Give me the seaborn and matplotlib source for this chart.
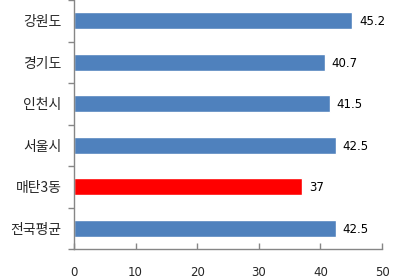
import matplotlib
matplotlib.use("Agg")
import matplotlib.pyplot as plt
import seaborn as sns
import pandas as pd

categories = ["강원도", "경기도", "인천시", "서울시", "매탄3동", "전국평균"]
values = [45.2, 40.7, 41.5, 42.5, 37, 42.5]
value_labels = ["45.2", "40.7", "41.5", "42.5", "37", "42.5"]
bar_colors = ["#4F81BD", "#4F81BD", "#4F81BD", "#4F81BD", "#FF0000", "#4F81BD"]
x_ticks = [0, 10, 20, 30, 40, 50]

sns.set_style("white")
plt.rcParams["font.family"] = ["Noto Sans CJK KR", "DejaVu Sans"]

df = pd.DataFrame({"cat": categories, "val": values})

fig = plt.figure(figsize=(3.95, 2.79), dpi=100)
ax = fig.add_axes([74 / 395, 1 - 249 / 279, (382 - 74) / 395, 249 / 279])

sns.barplot(data=df, y="cat", x="val", hue="cat", palette=bar_colors,
            legend=False, width=0.41, ax=ax, saturation=1, orient="h")

for i, (v, lab) in enumerate(zip(values, value_labels)):
    ax.text(v + 1.1, i + 0.02, lab, va="center", ha="left", fontsize=8.5,
            color="black", family=["DejaVu Sans"])

ax.set_xlim(0, 50)
ax.set_ylim(5.5, -0.5)
ax.set_xticks(x_ticks)
ax.set_xticklabels([str(t) for t in x_ticks], fontsize=8.5, family=["DejaVu Sans"])
ax.set_yticks([i + 0.5 for i in range(-1, 6)], minor=False)
ax.set_yticklabels([])
ax.set_yticks(range(len(categories)), minor=True)
ax.set_yticklabels(categories, minor=True, fontsize=10)
ax.tick_params(axis="y", which="minor", left=False, length=0, pad=9)
ax.tick_params(axis="y", which="major", left=True, length=4, direction="out",
               color="#868686", width=1)
ax.tick_params(axis="x", bottom=True, length=4, direction="in", color="#868686",
               width=1, pad=12)
ax.set_xlabel("")
ax.set_ylabel("")
for s in ["top", "right"]:
    ax.spines[s].set_visible(False)
for s in ["left", "bottom"]:
    ax.spines[s].set_color("#868686")
    ax.spines[s].set_linewidth(1)

fig.savefig("out.png", dpi=100)
